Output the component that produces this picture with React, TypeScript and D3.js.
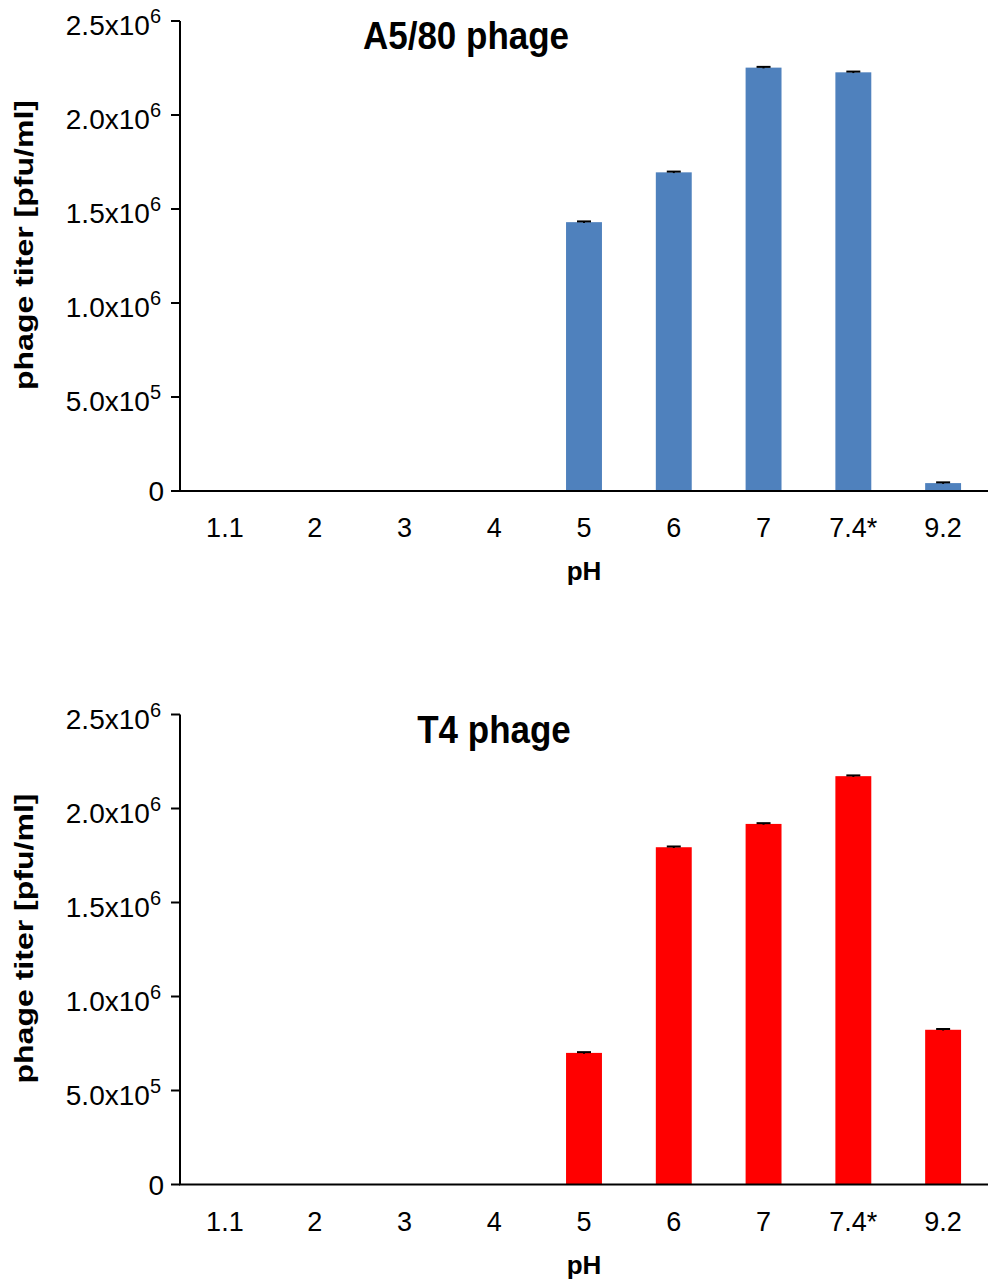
import * as d3 from "d3";

const width = 1000;
const height = 1285;

// pH values on the x axis
const categories = ["1.1", "2", "3", "4", "5", "6", "7", "7.4*", "9.2"];

// phage titer [pfu/ml]
const a580Values = [0, 0, 0, 0, 1.43e6, 1.695e6, 2.252e6, 2.227e6, 0.042e6];
const a580Errors = [0, 0, 0, 0, 4e3, 4e3, 4e3, 4e3, 4e3];
const t4Values = [0, 0, 0, 0, 0.7e6, 1.794e6, 1.918e6, 2.172e6, 0.823e6];
const t4Errors = [0, 0, 0, 0, 4e3, 4e3, 4e3, 4e3, 4e3];

const yTicks = [0, 5e5, 1e6, 1.5e6, 2e6, 2.5e6];

const font = "'Liberation Sans', Arial, sans-serif";

const x = d3
  .scaleBand<string>()
  .domain(categories)
  .range([180, 988])
  .paddingInner(0.6)
  .paddingOuter(0.3);

// split a tick value into mantissa and exponent, e.g. 2.5 and 6
const sci = (v: number) => {
  if (v === 0) return { m: "0", e: "" };
  const e = Math.floor(Math.log10(v));
  return { m: (v / Math.pow(10, e)).toFixed(1) + "x10", e: String(e) };
};

type PanelProps = {
  title: string;
  titleX: number;
  values: number[];
  errors: number[];
  color: string;
  top: number;
};

const Panel = ({ title, titleX, values, errors, color, top }: PanelProps) => {
  const y = d3.scaleLinear().domain([0, 2.5e6]).range([top + 470, top]);
  const base = y(0);

  return (
    <g fontFamily={font}>
      {/* title */}
      <g transform={`translate(${titleX},${top + 28}) scale(1,1.1)`}>
        <text textAnchor="middle" fontSize={35} fontWeight="bold">{title}</text>
      </g>

      {/* bars */}
      {values.map((v, i) =>
        v > 0 ? (
          <rect
            key={categories[i]}
            x={x(categories[i])}
            y={y(v)}
            width={x.bandwidth()}
            height={base - y(v)}
            fill={color}
          />
        ) : null
      )}

      {/* error bars */}
      {values.map((v, i) => {
        if (v <= 0) return null;
        const cx = (x(categories[i]) as number) + x.bandwidth() / 2;
        const hi = y(v + errors[i]);
        return (
          <g key={"e" + categories[i]} stroke="#000" strokeWidth={2}>
            <line x1={cx} x2={cx} y1={y(v - errors[i])} y2={hi} />
            <line x1={cx - 7} x2={cx + 7} y1={hi} y2={hi} />
          </g>
        );
      })}

      {/* y axis */}
      <line x1={180} x2={180} y1={y(2.5e6)} y2={base} stroke="#000" strokeWidth={2} />
      {yTicks.map(t => (
        <line key={"t" + t} x1={171} x2={180} y1={y(t)} y2={y(t)} stroke="#000" strokeWidth={2} />
      ))}
      {yTicks.map(t => {
        const s = sci(t);
        return (
          <text
            key={"l" + t}
            x={t === 0 ? 164 : 161}
            y={y(t) + (t === 0 ? 10 : 14)}
            textAnchor="end"
            fontSize={28}
          >
            {s.m}
            {s.e && (
              <tspan dy={-12} fontSize={20}>{s.e}</tspan>
            )}
          </text>
        );
      })}

      {/* x axis */}
      <line x1={179} x2={988} y1={base} y2={base} stroke="#000" strokeWidth={2} />
      {categories.map(c => (
        <text
          key={c}
          x={(x(c) as number) + x.bandwidth() / 2}
          y={base + 46}
          textAnchor="middle"
          fontSize={27}
        >
          {c}
        </text>
      ))}

      {/* axis titles */}
      <text x={584} y={base + 89} textAnchor="middle" fontSize={26} fontWeight="bold">pH</text>
      <text
        transform={`translate(33,${top + 224}) rotate(-90)`}
        textAnchor="middle"
        fontSize={25}
        fontWeight="bold"
        textLength={290}
        lengthAdjust="spacingAndGlyphs"
      >
        phage titer [pfu/ml]
      </text>
    </g>
  );
};

export default function App() {
  return (
    <svg
      width={width}
      height={height}
      viewBox={`0 0 ${width} ${height}`}
      style={{ position: "absolute", left: 0, top: 0, background: "#fff" }}
    >
      <rect width={width} height={height} fill="#fff" />
      <Panel title="A5/80 phage" titleX={466} values={a580Values} errors={a580Errors} color="#4f81bd" top={21} />
      <Panel title="T4 phage" titleX={494} values={t4Values} errors={t4Errors} color="#ff0000" top={714.5} />
    </svg>
  );
}
